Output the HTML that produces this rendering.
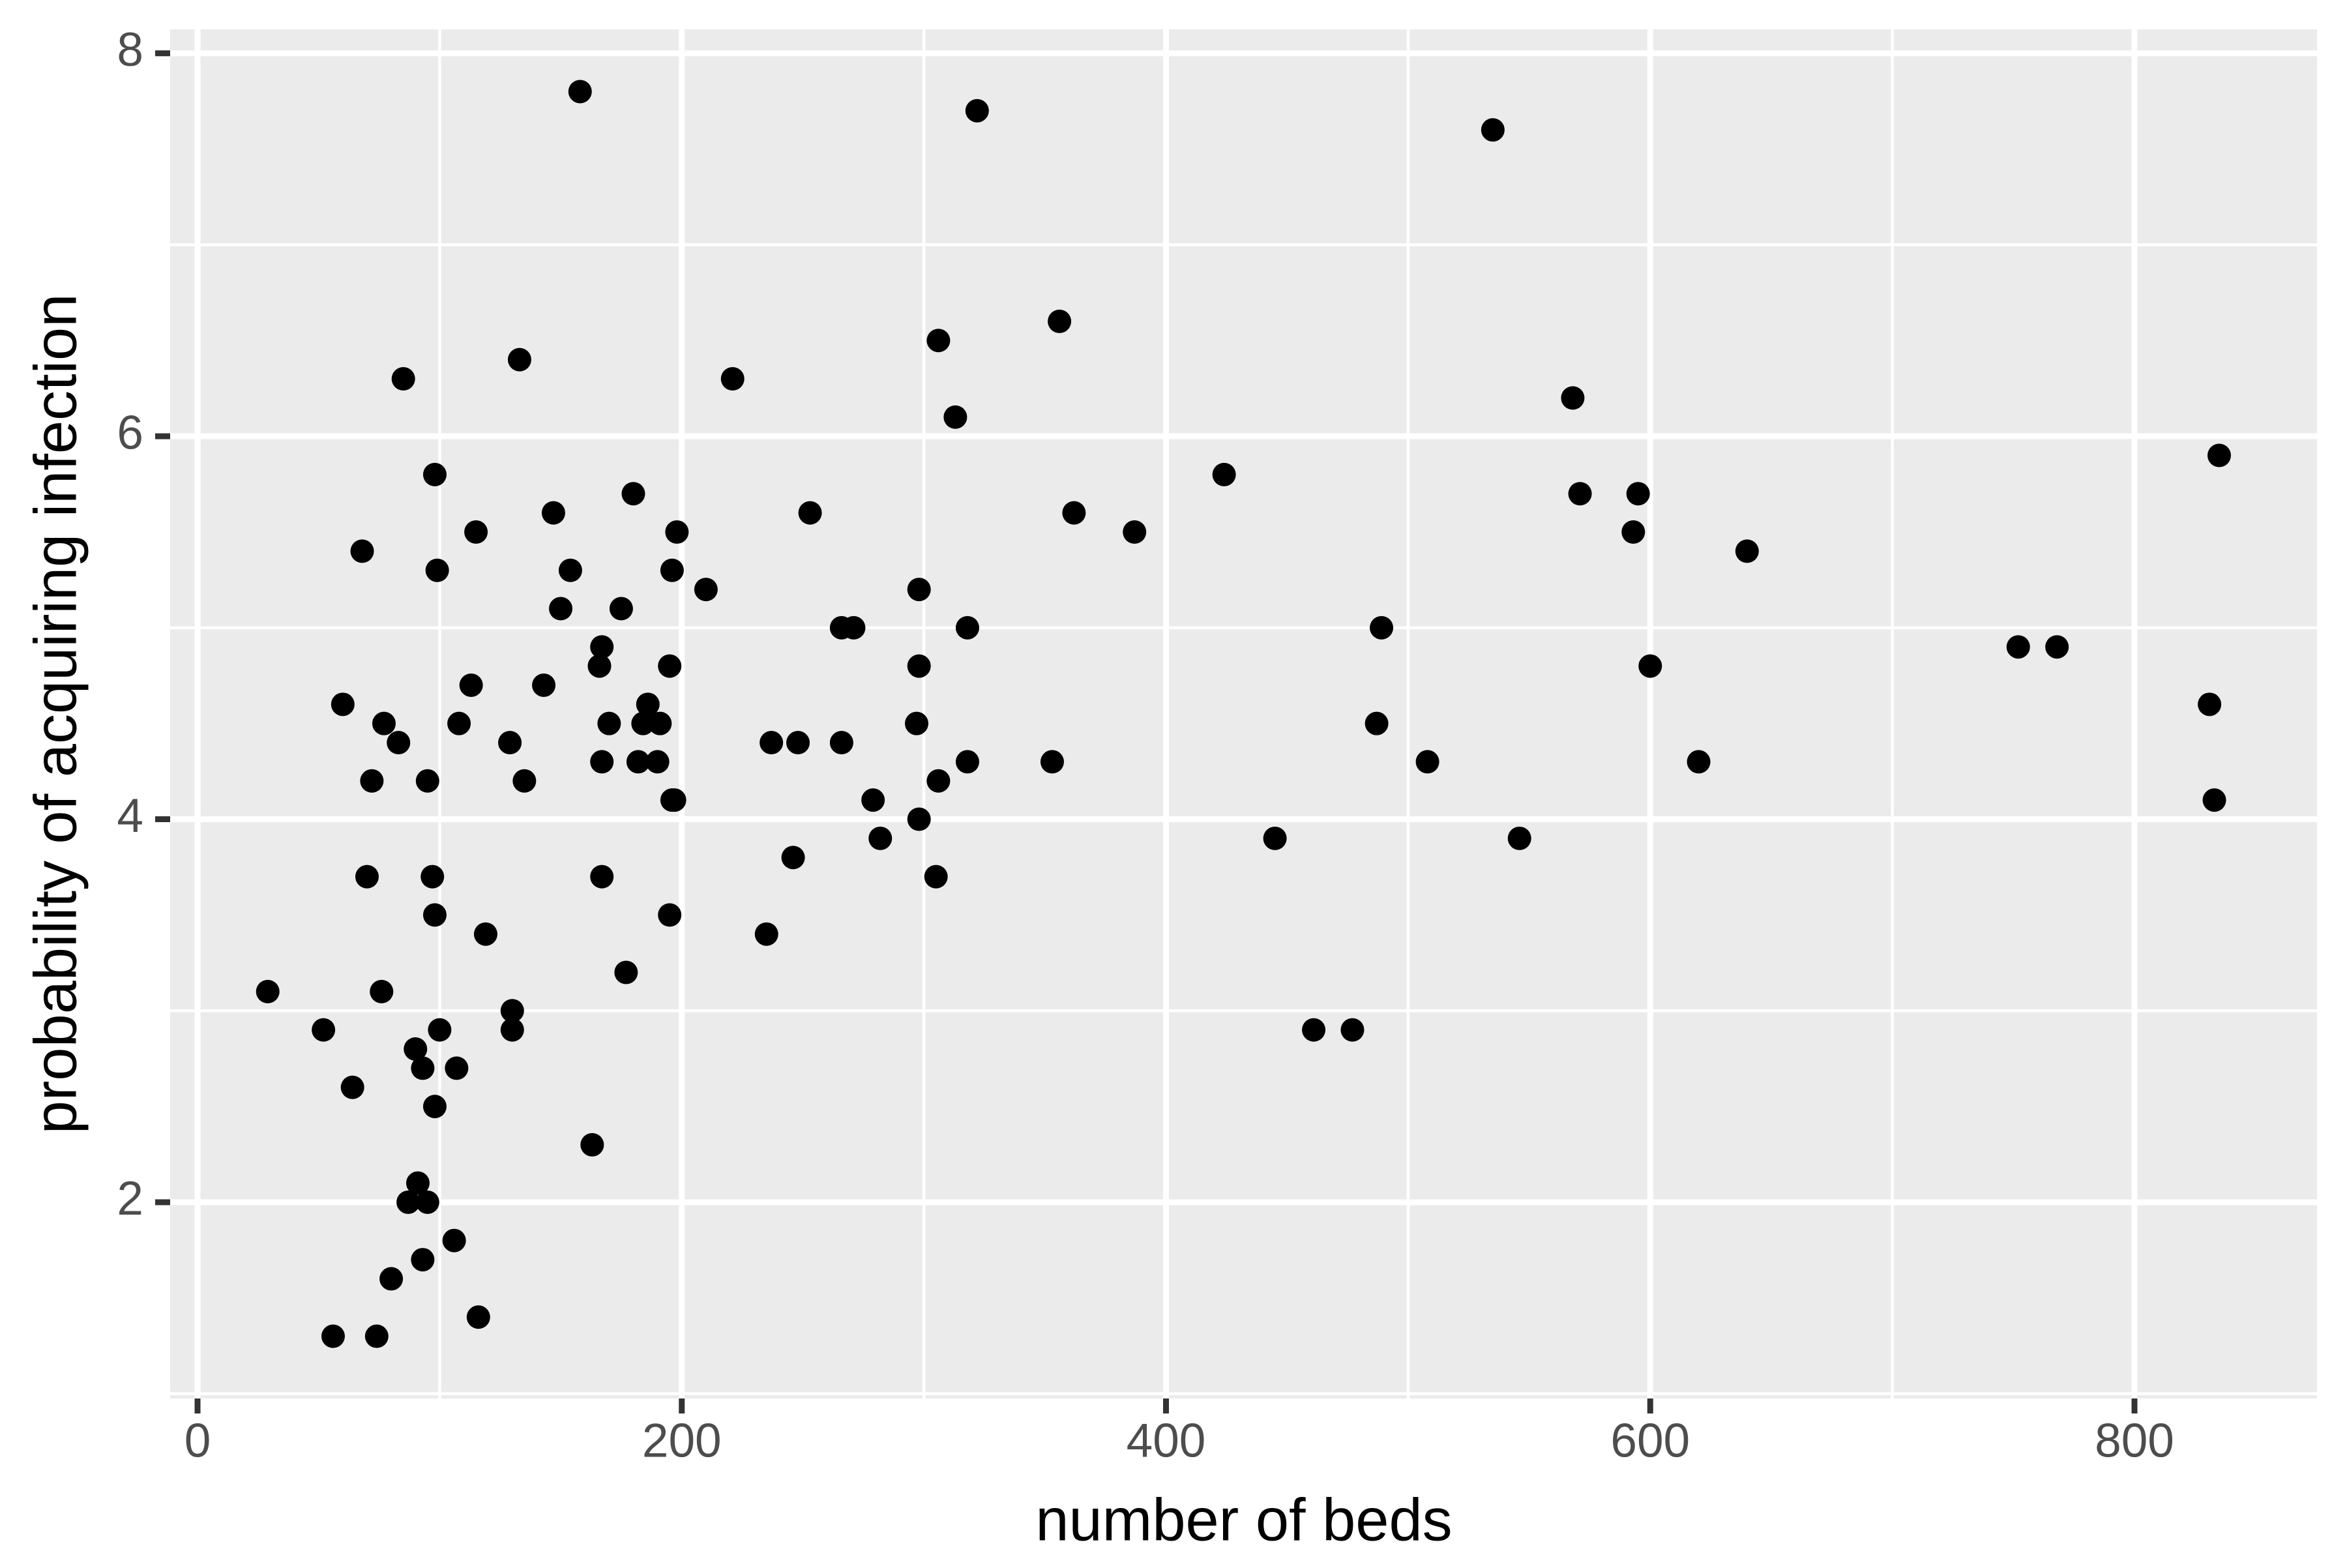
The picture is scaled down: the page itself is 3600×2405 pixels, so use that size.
<!DOCTYPE html>
<html><head><meta charset="utf-8"><style>
html,body{margin:0;padding:0;background:#fff;}
svg text{font-family:"Liberation Sans",Arial,sans-serif;}
</style></head><body>
<svg id="chart" width="3600" height="2400" viewBox="0 0 3600 2400" xmlns="http://www.w3.org/2000/svg">
<rect x="0" y="0" width="3600" height="2400" fill="#fff"/>
<rect x="261" y="45" width="3293" height="2100" fill="#EBEBEB"/>
<g id="grid"></g>
<g id="points"></g>
<g id="axes"></g>
<text x="1908" y="2338" font-size="92" text-anchor="middle" dominant-baseline="middle" fill="#000">number of beds</text>
<text transform="translate(92,1095) rotate(-90)" font-size="92" text-anchor="middle" dominant-baseline="middle" fill="#000">probability of acquiring infection</text>
</svg>
<script>
const beds = [29,52,56,60,64,68,70,72,74,76,77,80,83,85,87,90,91,93,93,95,95,97,98,98,98,99,100,106,107,108,113,115,116,119,129,130,130,133,135,143,147,150,154,158,163,166,167,167,167,170,175,177,180,182,184,186,190,191,195,195,196,196,197,198,210,221,235,237,246,248,253,266,266,271,279,282,297,298,298,298,305,306,306,313,318,318,322,353,356,362,387,424,445,461,477,487,489,508,535,546,568,571,593,595,600,620,640,752,768,831,833,835];
const infection = [3.1,2.9,1.3,4.6,2.6,5.4,3.7,4.2,1.3,3.1,4.5,1.6,4.4,6.3,2.0,2.8,2.1,2.7,1.7,2.0,4.2,3.7,3.5,2.5,5.8,5.3,2.9,1.8,2.7,4.5,4.7,5.5,1.4,3.4,4.4,3.0,2.9,6.4,4.2,4.7,5.6,5.1,5.3,7.8,2.3,4.8,3.7,4.9,4.3,4.5,5.1,3.2,5.7,4.3,4.5,4.6,4.3,4.5,3.5,4.8,4.1,5.3,4.1,5.5,5.2,6.3,3.4,4.4,3.8,4.4,5.6,4.4,5.0,5.0,4.1,3.9,4.5,5.2,4.8,4.0,3.7,4.2,6.5,6.1,5.0,4.3,7.7,4.3,6.6,5.6,5.5,5.8,3.9,2.9,2.9,4.5,5.0,4.3,7.6,3.9,6.2,5.7,5.5,5.7,4.8,4.3,5.4,4.9,4.9,4.6,4.1,5.9];
const xTicks = [0,200,400,600,800];
const xTickLabels = ["0","200","400","600","800"];
const xMinor = [100,300,500,700];
const yTicks = [2,4,6,8];
const yTickLabels = ["2","4","6","8"];
const yMinor = [1,3,5,7];

const NS = "http://www.w3.org/2000/svg";
const PL=261, PR=3554, PT=45, PB=2145;
function xs(v){ return 303 + v*(3274-303)/800; }
function ys(v){ return PB - (v-0.975)*(PB-PT)/(8.125-0.975); }
function mk(tag, attrs, parent){ const e=document.createElementNS(NS,tag); for(const k in attrs) e.setAttribute(k,attrs[k]); parent.appendChild(e); return e; }
const grid=document.getElementById('grid'), pts=document.getElementById('points'), axes=document.getElementById('axes');

xMinor.forEach(v=>{ const l=mk('line',{x1:xs(v),x2:xs(v),y1:PT,y2:PB,stroke:'#fff','stroke-width':4.5},grid);

 });
yMinor.forEach(v=>{ const l=mk('line',{x1:PL,x2:PR,y1:ys(v),y2:ys(v),stroke:'#fff','stroke-width':4.5},grid);

 });
xTicks.forEach((v,i)=>{ const l=mk('line',{x1:xs(v),x2:xs(v),y1:PT,y2:PB,stroke:'#fff','stroke-width':9},grid);


const t=mk('line',{x1:xs(v),x2:xs(v),y1:PB,y2:PB+23,stroke:'#333','stroke-width':9},axes);


const tx=mk('text',{x:xs(v),y:2215,'font-size':73,'text-anchor':'middle','dominant-baseline':'middle',fill:'#4D4D4D'},axes);
tx.textContent=xTickLabels[i];

 });
yTicks.forEach((v,i)=>{ const l=mk('line',{x1:PL,x2:PR,y1:ys(v),y2:ys(v),stroke:'#fff','stroke-width':9},grid);


const t=mk('line',{x1:PL-23,x2:PL,y1:ys(v),y2:ys(v),stroke:'#333','stroke-width':9},axes);


const tx=mk('text',{x:220,y:ys(v),'font-size':73,'text-anchor':'end','dominant-baseline':'middle',fill:'#4D4D4D'},axes);
tx.textContent=yTickLabels[i];

 });
beds.forEach((b,i)=>{ const c=mk('circle',{cx:xs(b),cy:ys(infection[i]),r:18,fill:'#000'},pts);

 });
</script>
</body></html>
